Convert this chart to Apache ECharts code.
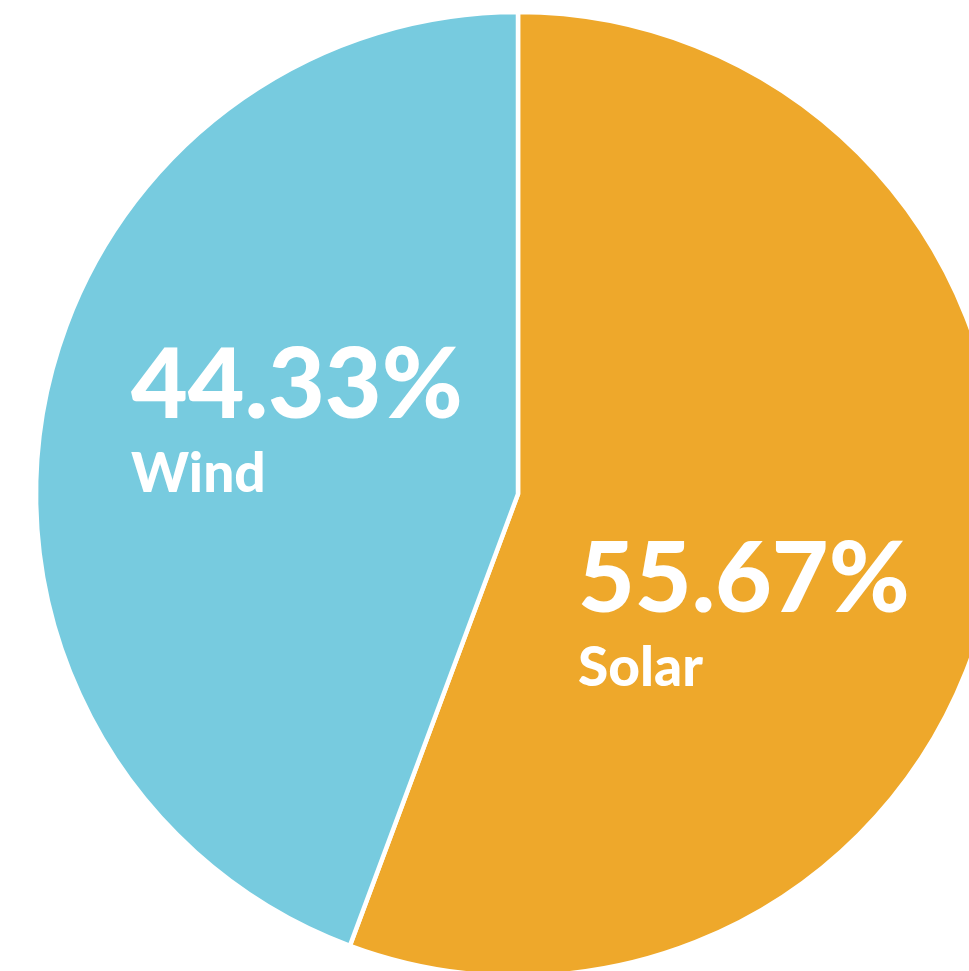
<!DOCTYPE html>
<html>
<head>
<meta charset="utf-8">
<script src="https://cdn.jsdelivr.net/npm/echarts@6/dist/echarts.min.js"></script>
<style>
  html, body { margin: 0; padding: 0; background: #fff; }
  #chart { width: 969px; height: 971px; }
</style>
</head>
<body>
<div id="chart"></div>
<script>
const names = ["Solar", "Wind"];
const shares = [55.67, 44.33];
const colors = ["#EEA82B", "#77CBDF"];

// label anchor (top-left) for each slice
const labelPos = [
  [578, 527],
  [131, 333]
];

const myChart = echarts.init(document.getElementById("chart"));
const option = {
  animation: false,
  series: [
    {
      type: "pie",
      center: [518, 494],
      radius: 482,
      startAngle: 90,
      clockwise: true,
      data: names.map((n, i) => ({
        name: n,
        value: shares[i],
        itemStyle: { color: colors[i] }
      })),
      itemStyle: {
        borderColor: "#fff",
        borderWidth: 4.5
      },
      label: {
        show: true,
        position: "inside",
        align: "left",
        formatter: (p) => "{pct|" + p.value.toFixed(2) + "%}\n{name|" + p.name + "}",
        rich: {
          pct: {
            color: "#fff",
            fontFamily: "Lato",
            fontWeight: 900,
            fontSize: 98,
            lineHeight: 106
          },
          name: {
            color: "#fff",
            fontFamily: "Lato",
            fontWeight: 900,
            fontSize: 55,
            lineHeight: 70
          }
        }
      },
      labelLine: { show: false },
      labelLayout: (params) => ({
        x: labelPos[params.dataIndex][0],
        y: labelPos[params.dataIndex][1],
        align: "left",
        verticalAlign: "top"
      })
    }
  ]
};
myChart.setOption(option);
</script>
</body>
</html>
